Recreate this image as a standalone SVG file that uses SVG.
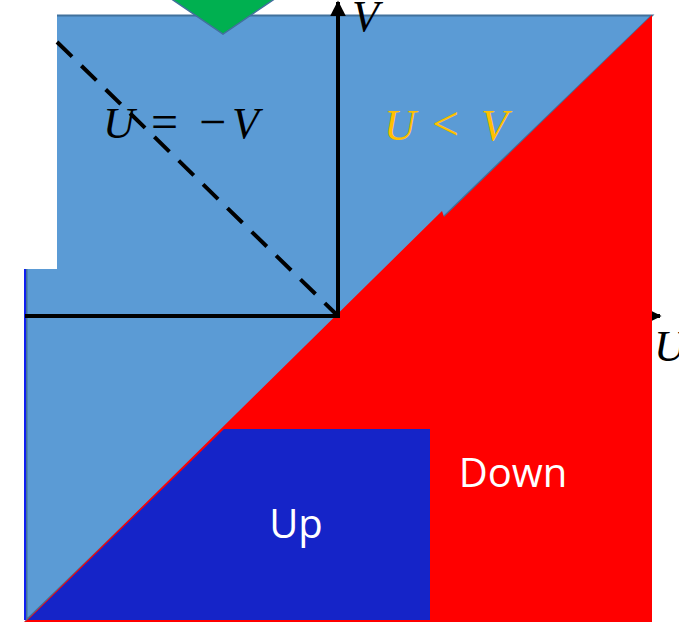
<svg xmlns="http://www.w3.org/2000/svg" width="679" height="623" viewBox="0 0 679 623">
<style>
.math{font-family:"Liberation Serif","DejaVu Serif",serif;font-style:italic;font-size:44px}
.op{font-style:normal;font-size:48px}
.lbl{font-family:"Open Sans","Noto Sans","Liberation Sans",sans-serif;font-size:40px;fill:#FFFFFF;text-anchor:middle}
.axis{stroke:#000;stroke-width:4;fill:none}
</style>
<defs>
<marker id="ah" viewBox="0 0 10 10" refX="9" refY="5" markerWidth="4" markerHeight="4" orient="auto" markerUnits="strokeWidth">
<path d="M0,0 L10,5 L0,10 z" fill="#000"/>
</marker>
</defs>
<rect width="679" height="623" fill="#FFFFFF"/>
<g id="axes-under">
<line class="axis" x1="25" y1="316" x2="660" y2="316" marker-end="url(#ah)"/>
</g>
<g id="region-down">
<polygon points="652,15 652,622 24,622" fill="#FF0000"/>
</g>
<g id="region-upper">
<polygon points="26.5,15.5 652,15.5 26.5,620" fill="#5B9BD5" stroke="#41719C" stroke-width="2"/>
</g>
<polygon points="442,211 444,217 652,15 652,622 25,622" fill="#FF0000"/>
<rect x="0" y="0" width="57" height="269" fill="#FFFFFF"/>
<line x1="25" y1="269" x2="25" y2="620" stroke="#1020F0" stroke-width="2"/>
<g id="green-arrow">
<polygon points="170,-2 276,-2 223,34" fill="#00B050" stroke="#41719C" stroke-width="1.5"/>
</g>
<g id="region-up">
<polygon points="28,620 430,620 430,429 224,429" fill="#1524C8"/>
<text class="lbl" x="296" y="538">Up</text>
</g>
<text class="lbl" x="513" y="487">Down</text>
<g id="connectors">
<line class="axis" x1="25" y1="316" x2="338" y2="316"/>
<line class="axis" x1="338" y1="318" x2="338" y2="2" marker-end="url(#ah)"/>
<line x1="57" y1="42" x2="336" y2="314" stroke="#000" stroke-width="4" stroke-dasharray="21 13"/>
</g>
<text class="math" x="352" y="31">V</text>
<text class="math" x="654" y="361">U</text>
<text class="math" y="138"><tspan x="103">U</tspan><tspan class="op" x="151">=</tspan><tspan class="op" x="199">−</tspan><tspan x="232">V</tspan></text>
<text class="math" y="140" fill="#FFC000"><tspan x="384">U</tspan><tspan class="op" x="432">&lt;</tspan><tspan x="481">V</tspan></text>
</svg>
